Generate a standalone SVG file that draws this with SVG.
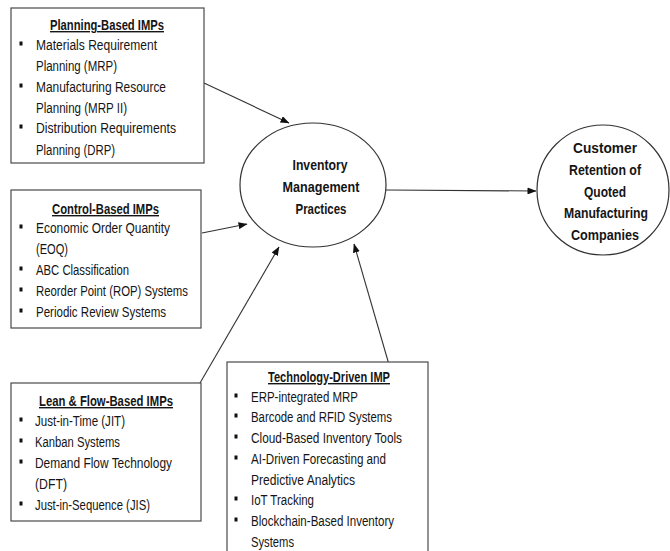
<svg xmlns="http://www.w3.org/2000/svg" width="670" height="551" viewBox="0 0 670 551">
<style>
.box{fill:#fff;stroke:#4a4a4a;stroke-width:1.2}
.ell{fill:#fff;stroke:#333;stroke-width:1.2}
.t{font-family:'Liberation Sans Narrow','Liberation Sans',Arial,sans-serif;font-size:14px;fill:#151515}
.h{font-family:'Liberation Sans Narrow','Liberation Sans',Arial,sans-serif;font-size:14px;font-weight:bold;fill:#151515;text-decoration:underline}
.c{font-family:'Liberation Sans Narrow','Liberation Sans',Arial,sans-serif;font-size:15.5px;font-weight:bold;fill:#151515;text-anchor:middle}
.b{fill:#111}
.con{stroke:#333;stroke-width:1.1;fill:none;marker-end:url(#ah)}
</style>
<defs>
<marker id="ah" markerWidth="9" markerHeight="7" refX="8.5" refY="3.5" orient="auto" markerUnits="userSpaceOnUse">
<path d="M0,0 L9,3.5 L0,7 Z" fill="#111"/>
</marker>
</defs>
<rect width="670" height="551" fill="#fff"/>

<g id="connectors">
<line class="con" x1="204" y1="83" x2="289" y2="123"/>
<line class="con" x1="202" y1="233" x2="247" y2="224"/>
<line class="con" x1="200" y1="383" x2="279" y2="247"/>
<line class="con" x1="390" y1="368" x2="354" y2="244"/>
<line class="con" x1="386" y1="190" x2="536" y2="191"/>
</g>

<g id="planning">
<rect class="box" x="11" y="8" width="193" height="155"/>
<text class="h" x="50" y="30" textLength="114" lengthAdjust="spacingAndGlyphs">Planning-Based IMPs</text>
<rect class="b" x="19.5" y="41.5" width="3" height="4"/>
<text class="t" x="36" y="50" textLength="121" lengthAdjust="spacingAndGlyphs">Materials Requirement</text>
<text class="t" x="36" y="71" textLength="81" lengthAdjust="spacingAndGlyphs">Planning (MRP)</text>
<rect class="b" x="19.5" y="83.5" width="3" height="4"/>
<text class="t" x="36" y="92" textLength="130" lengthAdjust="spacingAndGlyphs">Manufacturing Resource</text>
<text class="t" x="36" y="113" textLength="91" lengthAdjust="spacingAndGlyphs">Planning (MRP II)</text>
<rect class="b" x="19.5" y="124.5" width="3" height="4"/>
<text class="t" x="36" y="133" textLength="140" lengthAdjust="spacingAndGlyphs">Distribution Requirements</text>
<text class="t" x="36" y="155" textLength="79" lengthAdjust="spacingAndGlyphs">Planning (DRP)</text>
</g>

<g id="control">
<rect class="box" x="11" y="190" width="190" height="138"/>
<text class="h" x="52" y="214" textLength="107" lengthAdjust="spacingAndGlyphs">Control-Based IMPs</text>
<rect class="b" x="19.5" y="224.5" width="3" height="4"/>
<text class="t" x="36" y="233" textLength="134" lengthAdjust="spacingAndGlyphs">Economic Order Quantity</text>
<text class="t" x="36" y="254" textLength="32" lengthAdjust="spacingAndGlyphs">(EOQ)</text>
<rect class="b" x="19.5" y="266.5" width="3" height="4"/>
<text class="t" x="36" y="275" textLength="93" lengthAdjust="spacingAndGlyphs">ABC Classification</text>
<rect class="b" x="19.5" y="287.5" width="3" height="4"/>
<text class="t" x="36" y="296" textLength="152" lengthAdjust="spacingAndGlyphs">Reorder Point (ROP) Systems</text>
<rect class="b" x="19.5" y="308.5" width="3" height="4"/>
<text class="t" x="36" y="317" textLength="130" lengthAdjust="spacingAndGlyphs">Periodic Review Systems</text>
</g>

<g id="lean">
<rect class="box" x="11" y="383" width="190" height="138"/>
<text class="h" x="39" y="406" textLength="134" lengthAdjust="spacingAndGlyphs">Lean &amp; Flow-Based IMPs</text>
<rect class="b" x="19.5" y="417.5" width="3" height="4"/>
<text class="t" x="35" y="426" textLength="90" lengthAdjust="spacingAndGlyphs">Just-in-Time (JIT)</text>
<rect class="b" x="19.5" y="438.5" width="3" height="4"/>
<text class="t" x="35" y="447" textLength="85" lengthAdjust="spacingAndGlyphs">Kanban Systems</text>
<rect class="b" x="19.5" y="459.5" width="3" height="4"/>
<text class="t" x="35" y="468" textLength="137" lengthAdjust="spacingAndGlyphs">Demand Flow Technology</text>
<text class="t" x="35" y="489" textLength="32" lengthAdjust="spacingAndGlyphs">(DFT)</text>
<rect class="b" x="19.5" y="501.5" width="3" height="4"/>
<text class="t" x="35" y="510" textLength="115" lengthAdjust="spacingAndGlyphs">Just-in-Sequence (JIS)</text>
</g>

<g id="technology">
<rect class="box" x="227" y="362" width="201" height="200"/>
<text class="h" x="268" y="382" textLength="122" lengthAdjust="spacingAndGlyphs">Technology-Driven IMP</text>
<rect class="b" x="234.5" y="393.5" width="3" height="4"/>
<text class="t" x="251" y="402" textLength="107" lengthAdjust="spacingAndGlyphs">ERP-integrated MRP</text>
<rect class="b" x="234.5" y="413.5" width="3" height="4"/>
<text class="t" x="251" y="422" textLength="141" lengthAdjust="spacingAndGlyphs">Barcode and RFID Systems</text>
<rect class="b" x="234.5" y="434.5" width="3" height="4"/>
<text class="t" x="251" y="443" textLength="151" lengthAdjust="spacingAndGlyphs">Cloud-Based Inventory Tools</text>
<rect class="b" x="234.5" y="455.5" width="3" height="4"/>
<text class="t" x="251" y="464" textLength="135" lengthAdjust="spacingAndGlyphs">AI-Driven Forecasting and</text>
<text class="t" x="251" y="485" textLength="104" lengthAdjust="spacingAndGlyphs">Predictive Analytics</text>
<rect class="b" x="234.5" y="496.5" width="3" height="4"/>
<text class="t" x="251" y="505" textLength="63" lengthAdjust="spacingAndGlyphs">IoT Tracking</text>
<rect class="b" x="234.5" y="517.5" width="3" height="4"/>
<text class="t" x="251" y="526" textLength="143" lengthAdjust="spacingAndGlyphs">Blockchain-Based Inventory</text>
<text class="t" x="251" y="547" textLength="43" lengthAdjust="spacingAndGlyphs">Systems</text>
</g>

<g id="imp">
<ellipse class="ell" cx="313" cy="185" rx="73" ry="62"/>
<text class="c" x="320" y="170" textLength="55" lengthAdjust="spacingAndGlyphs">Inventory</text>
<text class="c" x="321" y="192" textLength="77" lengthAdjust="spacingAndGlyphs">Management</text>
<text class="c" x="321" y="214" textLength="51" lengthAdjust="spacingAndGlyphs">Practices</text>
</g>

<g id="retention">
<ellipse class="ell" cx="603" cy="190" rx="66" ry="65"/>
<text class="c" x="605" y="153" textLength="64" lengthAdjust="spacingAndGlyphs">Customer</text>
<text class="c" x="605" y="175" textLength="72" lengthAdjust="spacingAndGlyphs">Retention of</text>
<text class="c" x="605" y="197" textLength="42" lengthAdjust="spacingAndGlyphs">Quoted</text>
<text class="c" x="606" y="218" textLength="84" lengthAdjust="spacingAndGlyphs">Manufacturing</text>
<text class="c" x="605" y="240" textLength="68" lengthAdjust="spacingAndGlyphs">Companies</text>
</g>
</svg>
